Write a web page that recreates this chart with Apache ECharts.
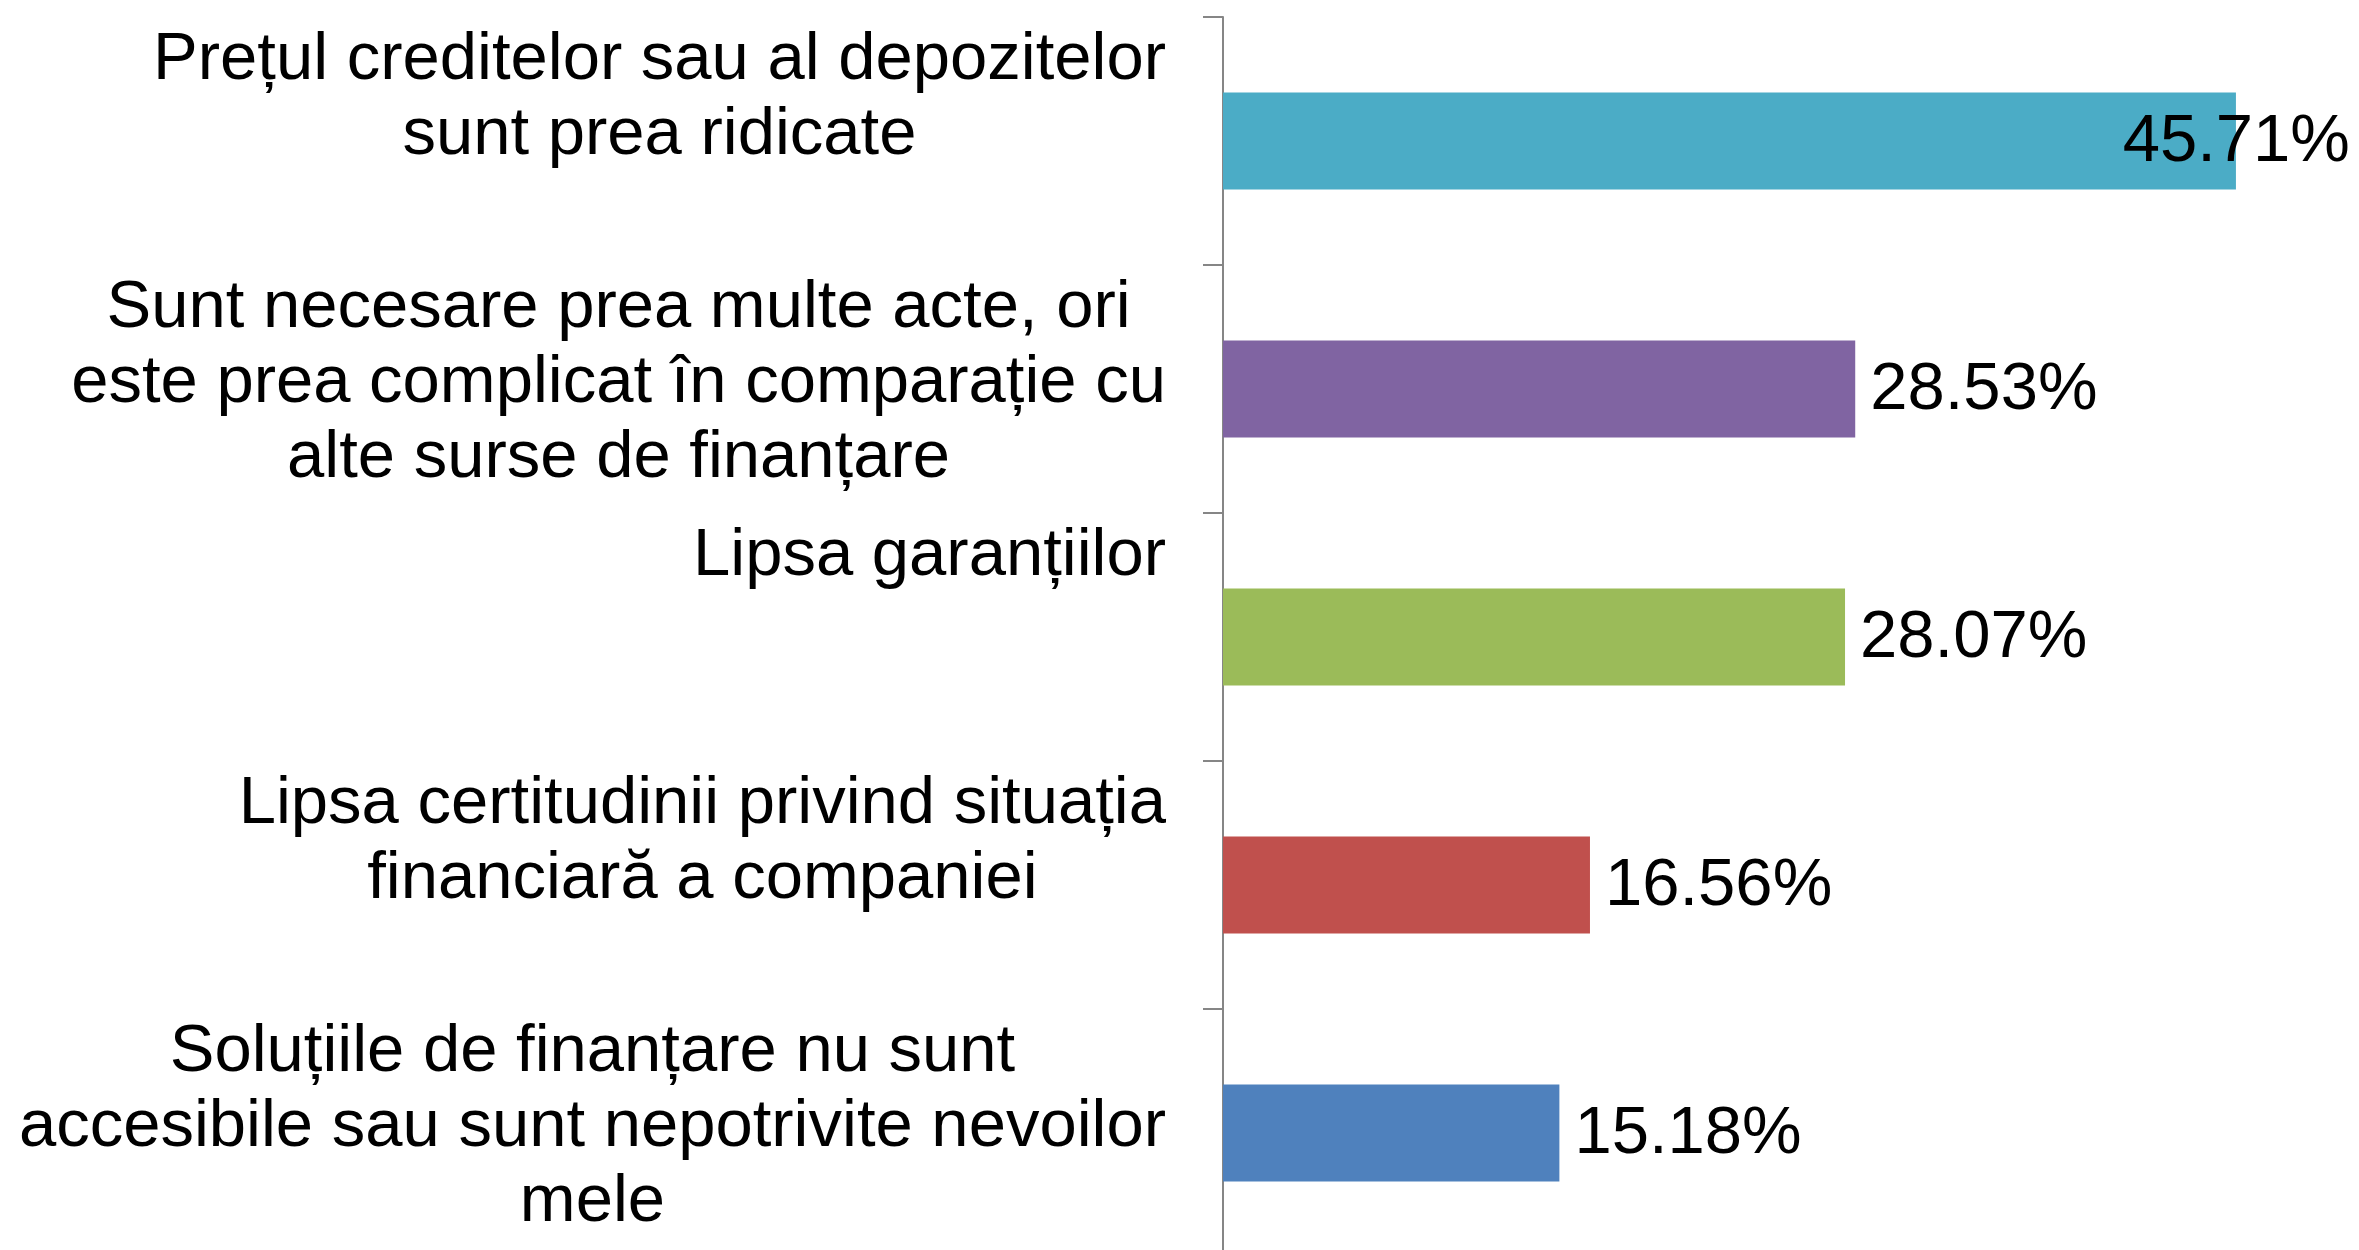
<!DOCTYPE html>
<html>
<head>
<meta charset="utf-8">
<script src="https://cdn.jsdelivr.net/npm/echarts@6/dist/echarts.min.js"></script>
<style>
  html, body { margin: 0; padding: 0; background: #fff; }
  #chart { width: 2359px; height: 1250px; }
</style>
</head>
<body>
<div id="chart"></div>
<script>
// categorii, de sus in jos
const categories = [
  'Prețul creditelor sau al depozitelor\nsunt prea ridicate',
  'Sunt necesare prea multe acte, ori\neste prea complicat în comparație cu\nalte surse de finanțare',
  'Lipsa garanțiilor',
  'Lipsa certitudinii privind situația\nfinanciară a companiei',
  'Soluțiile de finanțare nu sunt\naccesibile sau sunt nepotrivite nevoilor\nmele'
]
const values = [45.71, 28.53, 28.07, 16.56, 15.18]
const colors = ['#4BACC6', '#8064A2', '#9BBB59', '#C0504D', '#4F81BD']

const font = '"Liberation Sans", Arial, sans-serif'

const chart = echarts.init(document.getElementById('chart'))

const barData = values.map((v, i) => {
  const item = { value: v, itemStyle: { color: colors[i] } }
  // primul procent e impins peste capatul barei, ca in original
  if (i === 0) {
    item.label = { position: 'insideRight', offset: [129, 2] }
  }
  return item
})

chart.setOption({
  animation: false,
  grid: {
    left: 1223,
    right: 28,
    top: 17,
    height: 1240,
    outerBoundsMode: 'none'
  },
  xAxis: {
    type: 'value',
    min: 0,
    max: 50,
    show: false
  },
  yAxis: {
    type: 'category',
    inverse: true,
    data: categories,
    axisLine: { show: true, lineStyle: { color: '#868686', width: 2 } },
    axisTick: { show: true, length: 20, lineStyle: { color: '#868686', width: 2 } },
    axisLabel: {
      interval: 0,
      margin: 57,
      align: 'right',
      padding: [0, 0, 10, 0],
      // fiecare eticheta ocupa 3 randuri, randurile centrate in bloc
      formatter: function (val) {
        const lines = val.split('\n')
        while (lines.length < 3) lines.push(' ')
        return lines.map(l => '{c|' + l + '}').join('\n')
      },
      rich: {
        c: {
          fontFamily: font,
          fontSize: 67,
          lineHeight: 75,
          color: '#000',
          align: 'center'
        }
      }
    }
  },
  series: [
    {
      type: 'bar',
      data: barData,
      barWidth: 97,
      label: {
        show: true,
        position: 'right',
        distance: 15,
        fontFamily: font,
        fontSize: 67,
        color: '#000',
        offset: [0, 2],
        formatter: p => p.value.toFixed(2) + '%'
      }
    }
  ]
})
</script>
</body>
</html>
